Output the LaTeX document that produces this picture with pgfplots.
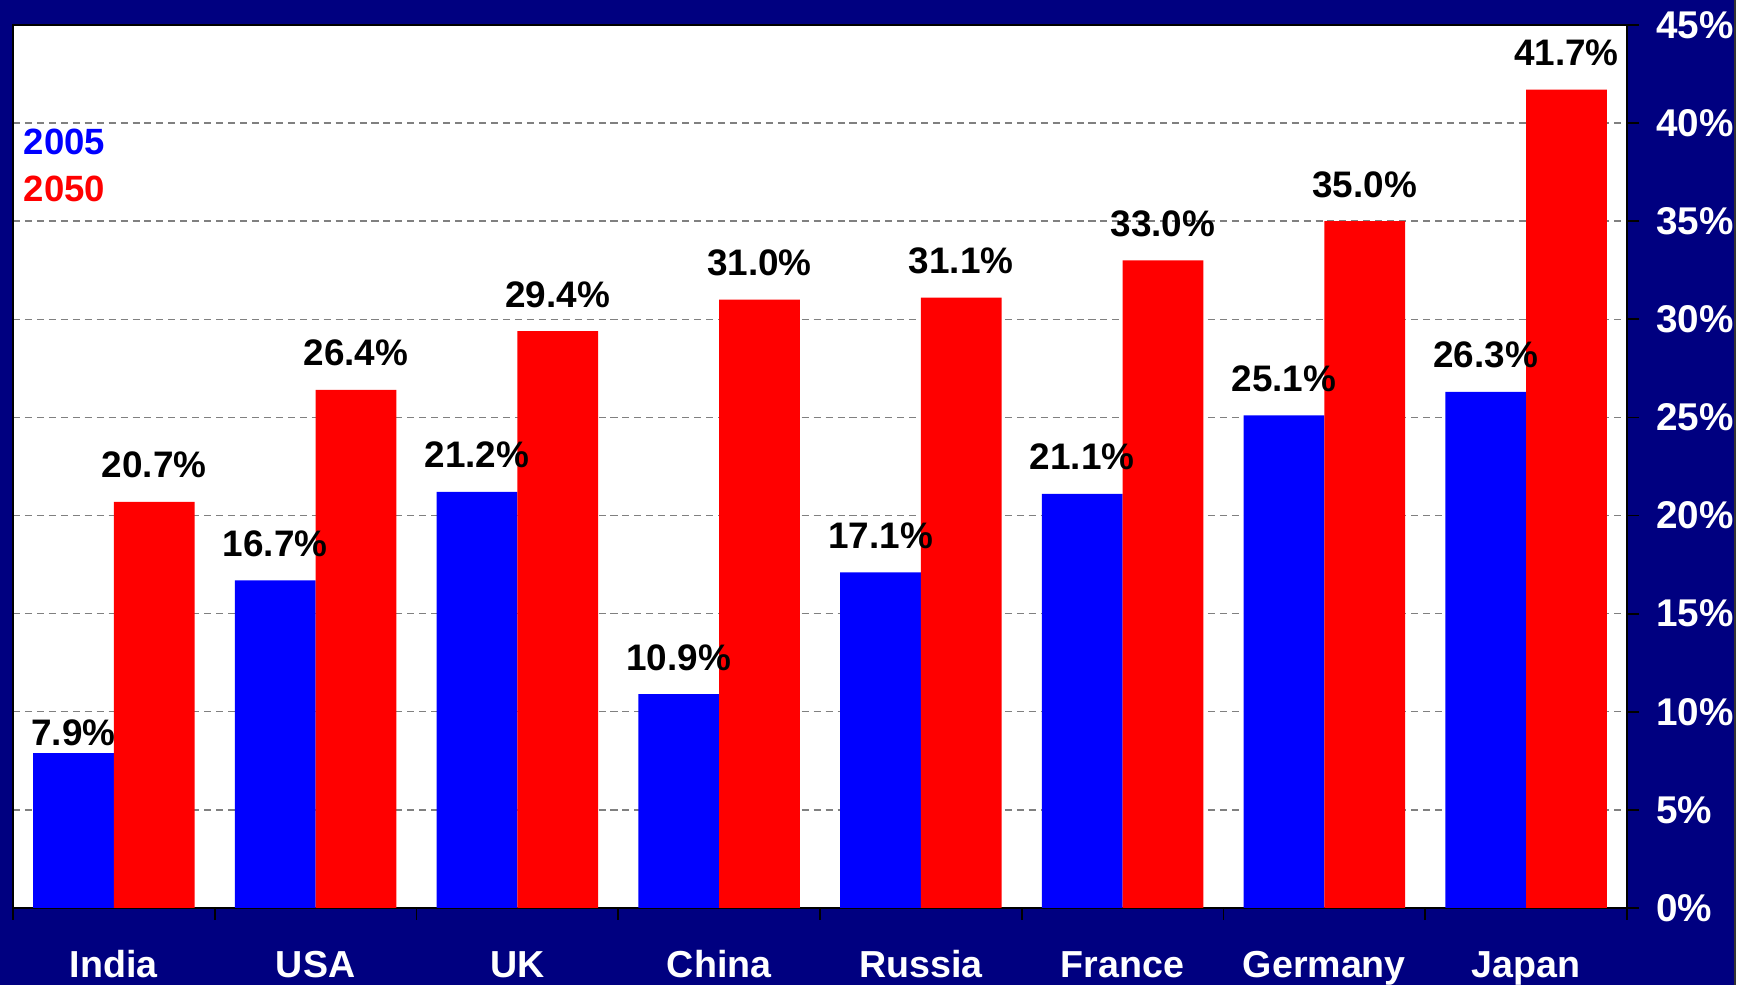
\documentclass[border=0pt]{standalone}
\usepackage{pgfplots}
\pgfplotsset{compat=1.18}
\usepackage{fontspec}
\setmainfont{Liberation Sans}
\definecolor{navybg}{RGB}{0,0,128}
\definecolor{barblue}{RGB}{0,0,255}
\definecolor{barred}{RGB}{255,0,0}
\begin{document}
\begin{tikzpicture}
\useasboundingbox (0,0) rectangle (175.4mm,98.5mm);
\fill[white] (0,0) rectangle (175.4mm,98.5mm);
\fill[navybg] (0,0) rectangle (173.5mm,98.5mm);
\draw[black!80, line width=0.3pt] (173.5mm,0) -- (173.5mm,98.5mm);
\begin{axis}[
  at={(1.3mm,7.7mm)}, anchor=south west,
  scale only axis, width=161.4mm, height=88.3mm,
  axis background/.style={fill=white},
  /pgf/number format/assume math mode=true,
  xmin=-0.5, xmax=7.5, ymin=0, ymax=45,
  axis line style={black, line width=0.5pt},
  tick align=outside,
  major tick length=1.2mm,
  tick style={black, line width=0.5pt},
  xtick pos=bottom, ytick pos=right, yticklabel pos=right,
  xtick={-0.5,0.5,...,7.5}, xticklabels={},
  extra x ticks={0,1,2,3,4,5,6,7},
  extra x tick labels={India,USA,UK,China,Russia,France,Germany,Japan},
  extra x tick style={major tick length=0pt, grid=none},
  xticklabel style={font=\fontsize{10.7}{12}\selectfont\bfseries, text=white, anchor=base, yshift=-6.95mm},
  ytick={0,5,...,45},
  yticklabels={0\%,5\%,10\%,15\%,20\%,25\%,30\%,35\%,40\%,45\%},
  yticklabel style={font=\fontsize{11}{13}\selectfont\bfseries, text=white, anchor=west, xshift=0.5mm},
  ymajorgrids,
  grid style={dash pattern=on 2pt off 1.4pt, gray, line width=0.4pt},
  nodes near coords={\pgfmathprintnumber[fixed,fixed zerofill,precision=1]{\pgfplotspointmeta}\%},
  every node near coord/.append style={anchor=base, text=black, inner sep=0pt, font=\fontsize{10.5}{12}\selectfont\bfseries},
]
% 2005 series (India label sits lower in the reference)
\addplot[ybar, fill=barblue, draw=none, bar width=0.4, bar shift=-0.2,
  every node near coord/.append style={xshift=-4.035mm, yshift=0.7mm}] coordinates {(0,7.9)};
\addplot[ybar, fill=barblue, draw=none, bar width=0.4, bar shift=-0.2,
  every node near coord/.append style={xshift=-4.035mm, yshift=2.4mm}] coordinates {
  (1,16.7) (2,21.2) (3,10.9) (4,17.1) (5,21.1) (6,25.1) (7,26.3)};
% 2050 series
\addplot[ybar, fill=barred, draw=none, bar width=0.4, bar shift=0.2,
  every node near coord/.append style={xshift=4.035mm, yshift=2.4mm}] coordinates {
  (0,20.7) (1,26.4) (2,29.4) (3,31.0) (4,31.1) (5,33.0) (6,35.0) (7,41.7)};
\node[anchor=west, text=barblue, inner sep=0pt, font=\fontsize{10.4}{12}\selectfont\bfseries] at (rel axis cs:0.0062,0.8675) {2005};
\node[anchor=west, text=barred, inner sep=0pt, font=\fontsize{10.4}{12}\selectfont\bfseries] at (rel axis cs:0.0062,0.814) {2050};
\end{axis}
\end{tikzpicture}
\end{document}
